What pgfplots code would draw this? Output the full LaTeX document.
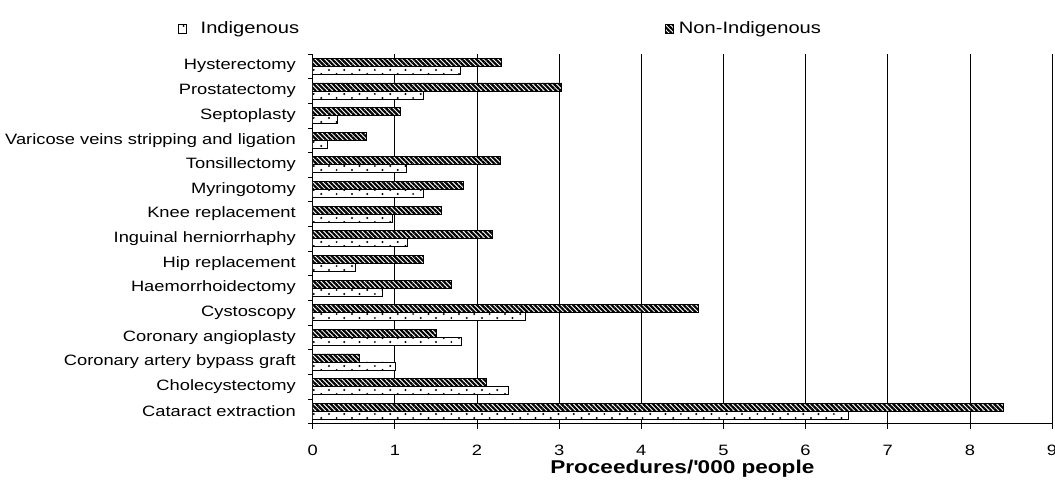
\documentclass[border=0pt]{standalone}
\usepackage{fontspec}
\setmainfont{Liberation Sans}[FakeStretch=1.22]
\usepackage{pgfplots}
\pgfplotsset{compat=1.18}
\usepackage{pgfplotstable}
\usetikzlibrary{patterns.meta}

% sparse staggered dots for the Indigenous bars
\pgfdeclarepattern{
  name=sparsedots,
  type=uncolored,
  bottom left={\pgfpoint{-1.5pt}{-1.5pt}},
  top right={\pgfpoint{13.8pt}{6.5pt}},
  tile size={\pgfpoint{15.3pt}{8pt}},
  code={
    \pgfpathcircle{\pgfpoint{0pt}{0pt}}{1.1pt}
    \pgfpathcircle{\pgfpoint{7.65pt}{4pt}}{1.1pt}
    \pgfusepath{fill}
  }
}

% procedures per 1000 people; pos 0 = bottom row
\pgfplotstableread{
pos ind non
0  6.52 8.41
1  2.38 2.12
2  1.01 0.57
3  1.81 1.50
4  2.59 4.70
5  0.85 1.69
6  0.52 1.35
7  1.15 2.19
8  0.97 1.57
9  1.35 1.83
10 1.14 2.29
11 0.18 0.65
12 0.30 1.07
13 1.35 3.03
14 1.80 2.30
}\procedures

\begin{document}
\begin{tikzpicture}
\begin{axis}[
  at={(0pt,0pt)}, anchor=south west,
  scale only axis, width=739.3pt, height=369.5pt,
  xbar, bar width=8pt,
  xmin=0, xmax=9, ymin=-0.5, ymax=14.5,
  axis x line*=bottom, axis y line*=left,
  axis line style={-, black, line width=0.8pt},
  xtick={0,...,9},
  xmajorgrids, grid style={black, line width=0.7pt},
  ytick={-0.5,0.5,...,14.5},
  yticklabels={Cataract extraction, Cholecystectomy, Coronary artery bypass graft,
    Coronary angioplasty, Cystoscopy, Haemorrhoidectomy, Hip replacement,
    Inguinal herniorrhaphy, Knee replacement, Myringotomy, Tonsillectomy,
    Varicose veins stripping and ligation, Septoplasty, Prostatectomy,
    Hysterectomy, {}},
  tick align=outside, major tick length=5pt,
  tick style={black, line width=0.7pt},
  /pgf/number format/assume math mode=true,
  x tick label style={anchor=north, inner sep=0pt, yshift=-16.5pt,
    font=\fontsize{15}{18}\selectfont},
  y tick label style={anchor=east, inner sep=0pt, xshift=-11.7pt, yshift=12.32pt,
    font=\fontsize{15}{18}\selectfont},
  xlabel={Proceedures/\textquotesingle000 people},
  x label style={at={(axis description cs:0.5,0)}, anchor=base, inner sep=0pt,
    yshift=-50pt, font=\bfseries\fontsize{18.5}{22}\selectfont},
  legend columns=2,
  legend cell align=left,
  legend image code/.code={\draw[#1, line width=0.7pt] (0pt,-4.5pt) rectangle (8pt,4.5pt);},
  legend style={at={(axis description cs:-0.1822,1.0685)}, anchor=west,
    draw=none, fill=none, inner sep=0pt, outer sep=0pt,
    font=\fontsize{16.5}{20}\selectfont,
    nodes={inner sep=0pt, outer sep=0pt},
    /tikz/column 1/.style={column sep=14pt},
    /tikz/column 2/.style={column sep=366pt},
    /tikz/column 3/.style={column sep=5pt}},
]
\addplot[draw=black, line width=0.7pt, fill=white, bar shift=-4pt,
  postaction={pattern={sparsedots}, pattern color=black}]
  table[x=ind, y=pos] {\procedures};
\addlegendentry{Indigenous}
\addplot[draw=black, line width=0.7pt, fill=white, bar shift=4pt,
  postaction={pattern={Lines[angle=-45, distance=3.4pt, line width=2.2pt]}, pattern color=black}]
  table[x=non, y=pos] {\procedures};
\addlegendentry{Non-Indigenous}
\end{axis}
\pgfresetboundingbox
\path[use as bounding box] (-312.7pt,-58.5pt) rectangle (742.3pt,423.5pt);
\end{tikzpicture}
\end{document}
